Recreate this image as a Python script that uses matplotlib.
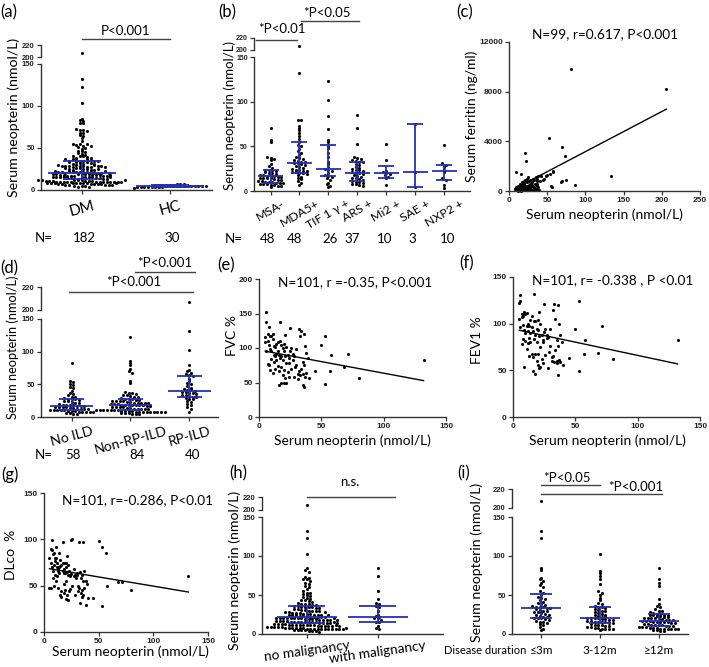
import numpy as np
import matplotlib
matplotlib.use('Agg')
import matplotlib.pyplot as plt
from matplotlib.lines import Line2D

plt.rcParams['font.family'] = ['Lato', 'DejaVu Sans']

# ---------------- DATA ----------------
# (a)
cats_a = ['DM', 'HC']
hc = [2.5, 3, 3, 3.2, 3.5, 3.6, 3.8, 4, 4, 4.2, 4.3, 4.4, 4.5, 4.5, 4.6, 4.7, 4.8, 5, 5,
      5.2, 5.3, 5.5, 5.6, 5.8, 6, 6.2, 6.5, 6.8, 7, 7.2]
# (d) ILD groups (DM = union of them)
cats_d = ['No ILD', 'Non-RP-ILD', 'RP-ILD']
no_ild = [83, 55, 53, 51, 49, 46, 44, 40, 37, 35, 33, 31, 30, 29, 28, 28, 27, 26, 25, 24,
          23, 22, 21, 20, 19, 19, 18, 18, 17, 17, 17, 16, 16, 15, 15, 14, 14, 13, 13, 12,
          12, 11, 11, 11, 10, 10, 9, 9, 9, 8, 8, 8, 7, 7, 6, 6, 5, 4]
non_rp = [123, 85, 82, 80, 73, 71, 68, 55, 52, 38, 37, 36, 35, 34, 33, 32, 31, 30, 29, 28,
          27, 27, 26, 26, 25, 25, 24, 24, 23, 23, 22, 22, 21, 21, 21, 20, 20, 20, 19, 19,
          19, 19, 18, 18, 18, 17, 17, 16, 16, 15, 15, 14, 14, 13, 13, 12, 12, 12, 11, 11,
          11, 10, 10, 10, 10, 9, 9, 9, 9, 8, 8, 8, 8, 8, 7, 7, 7, 7, 6, 6, 6, 5, 5, 4]
rp_ild = [207, 132, 103, 80, 72, 70, 68, 66, 64, 62, 58, 55, 52, 50, 47, 45, 43, 42, 41, 40,
          39, 38, 37, 36, 35, 34, 33, 32, 31, 30, 29, 28, 27, 25, 23, 20, 18, 15, 12, 8]
dm = no_ild + non_rp + rp_ild
n_a = [182, 30]
n_d = [58, 84, 40]
stats_a = [(20, 13, 34), (4.5, 3.6, 5.5)]           # (median, q1, q3)
stats_d = [(17, 11, 28), (19, 10, 27), (40, 31, 63)]

# (b) MSA groups
cats_b = ['MSA-', 'MDA5+', 'TIF 1 \u03b3 +', 'ARS +', 'Mi2 +', 'SAE +', 'NXP2 +']
msa = [70, 57, 55, 38, 37, 36, 35, 30, 28, 26, 24, 24, 23, 22, 21, 20, 20, 19, 18, 18,
       17, 17, 17, 16, 16, 15, 15, 14, 14, 13, 12, 12, 11, 11, 10, 10, 10, 9, 9, 9,
       8, 8, 8, 7, 7, 6, 6, 5]
mda5 = [207, 132, 80, 80, 73, 70, 68, 65, 62, 58, 55, 52, 50, 47, 45, 42, 40, 38, 37, 36,
        35, 34, 33, 32, 31, 31, 30, 29, 28, 27, 26, 25, 24, 23, 22, 22, 21, 21, 20, 20,
        19, 18, 16, 15, 13, 11, 9, 7]
tif1g = [123, 102, 84, 69, 57, 55, 50, 48, 42, 38, 33, 30, 27, 25, 24, 22, 20, 18, 17, 16,
         15, 12, 9, 8, 6, 5]
ars = [85, 71, 53, 38, 37, 36, 35, 34, 33, 32, 30, 29, 27, 26, 25, 24, 23, 22, 21, 20,
       20, 19, 18, 17, 16, 15, 14, 13, 12, 11, 10, 10, 9, 8, 8, 7, 6]
mi2 = [53, 35, 22, 21, 20, 19, 18, 16, 14, 7]
sae = [75, 21, 5]
nxp2 = [52, 31, 29, 27, 24, 21, 15, 12, 7, 3]
n_b = [48, 48, 26, 37, 10, 3, 10]
stats_b = [(17, 9, 24), (31.5, 20, 55), (25, 17, 51), (20, 11, 33), (20, 14, 28),
           (21, 5, 75), (22.5, 12.5, 29.5)]

# (c) ferritin vs neopterin
ferr_x = [8, 9, 10, 11, 12, 12, 13, 14, 14, 15,
          15, 16, 16, 17, 17, 18, 18, 19, 19, 20,
          20, 20, 21, 21, 22, 22, 22, 23, 23, 24,
          24, 25, 25, 26, 26, 27, 27, 28, 28, 29,
          30, 30, 31, 32, 33, 33, 34, 35, 35, 35,
          36, 36, 36, 37, 37, 38, 38, 39, 40, 42,
          44, 46, 48, 50, 52, 54, 55, 56, 57, 58,
          68, 70, 70, 73, 74, 81, 86, 133, 206, 9,
          17, 21, 22, 18, 25, 30, 34, 37, 16, 19,
          23, 27, 31, 12, 14, 20, 24, 28, 35]
ferr_y = [200, 300, 100, 150, 50, 400, 250, 600, 100, 300,
          150, 1400, 500, 200, 700, 100, 350, 50, 800, 300,
          150, 600, 900, 250, 2400, 400, 100, 700, 50, 1000,
          300, 1100, 200, 500, 800, 150, 600, 350, 900, 100,
          400, 700, 1000, 200, 900, 300, 600, 1100, 150, 50,
          400, 800, 1000, 200, 600, 300, 1200, 100, 800, 1200,
          900, 1000, 1200, 1300, 4250, 1350, 400, 300, 1500, 1600,
          750, 3550, 800, 2800, 900, 9800, 500, 1200, 8250, 1500,
          50, 3050, 100, 300, 200, 500, 100, 50, 20, 250,
          400, 250, 100, 30, 60, 500, 80, 150, 200]
fit_c = (32.3, -60.0)   # slope, intercept

# (e)(f)(g) pulmonary function vs neopterin (same patients)
pft_x = [5, 5, 6, 6, 6, 7, 7, 7, 8, 8,
         8, 9, 9, 9, 10, 10, 10, 11, 11, 12,
         12, 12, 13, 13, 13, 14, 14, 15, 15, 15,
         16, 16, 16, 17, 17, 17, 18, 18, 18, 19,
         19, 19, 20, 20, 20, 21, 21, 21, 22, 22,
         22, 23, 23, 24, 24, 25, 25, 26, 26, 27,
         28, 28, 29, 30, 30, 31, 32, 32, 33, 33,
         34, 34, 35, 35, 35, 36, 36, 36, 37, 37,
         38, 38, 39, 40, 14, 18, 20, 24, 11, 27,
         31, 45, 50, 53, 53, 57, 58, 68, 71, 80,
         132]
fvc = [116, 108, 152, 137, 95, 110, 77, 120, 130, 104,
       76, 117, 98, 68, 95, 117, 84, 120, 64, 103,
       90, 80, 101, 88, 70, 106, 82, 96, 74, 109,
       90, 66, 47, 137, 85, 110, 89, 72, 50, 100,
       83, 61, 95, 68, 49, 119, 88, 57, 49, 78,
       102, 90, 65, 85, 58, 129, 95, 100, 69, 91,
       89, 58, 72, 76, 98, 55, 66, 127, 118, 61,
       124, 70, 80, 63, 47, 120, 75, 44, 58, 103,
       93, 64, 85, 56, 92, 105, 106, 78, 113, 83,
       62, 66, 105, 118, 48, 67, 90, 72, 92, 57,
       83]
fev1 = [122, 105, 131, 124, 96, 107, 78, 110, 108, 99,
        84, 112, 54, 93, 90, 110, 81, 111, 73, 100,
        92, 79, 97, 85, 65, 104, 80, 96, 68, 108,
        92, 64, 49, 132, 84, 103, 88, 68, 46, 94,
        80, 60, 93, 68, 56, 112, 87, 52, 54, 75,
        100, 88, 62, 83, 58, 121, 91, 94, 66, 88,
        86, 53, 70, 76, 94, 60, 65, 115, 121, 59,
        105, 72, 82, 60, 58, 120, 76, 45, 61, 100,
        88, 59, 80, 56, 90, 103, 104, 80, 98, 85,
        64, 63, 94, 124, 49, 67, 82, 69, 97, 62,
        82]
dlco = [47, 80, 90, 75, 48, 88, 70, 99, 84, 66,
        58, 85, 72, 50, 77, 80, 62, 92, 55, 70,
        74, 60, 66, 68, 48, 85, 64, 71, 40, 78,
        72, 44, 38, 97, 66, 75, 68, 52, 42, 74,
        64, 45, 70, 55, 36, 82, 65, 40, 34, 62,
        72, 66, 44, 60, 46, 99, 63, 100, 50, 68,
        62, 40, 58, 64, 61, 44, 48, 97, 65, 31,
        58, 42, 62, 38, 45, 97, 55, 40, 48, 66,
        55, 29, 52, 37, 70, 64, 74, 62, 80, 60,
        50, 37, 98, 92, 28, 85, 50, 54, 54, 45,
        60]
fit_e = (-0.336, 97.1)
fit_f = (-0.284, 94.4)
fit_g = (-0.198, 69.3)

# (h) malignancy
cats_h = ['no malignancy', 'with malignancy']
no_mal = [207, 132, 123, 103, 85, 82, 80, 73, 72, 71,
          70, 68, 66, 64, 62, 60, 58, 55, 53, 52,
          51, 50, 49, 47, 46, 45, 44, 43, 42, 41,
          40, 39, 38, 38, 37, 37, 36, 36, 35, 35,
          34, 34, 33, 33, 32, 32, 31, 31, 30, 30,
          29, 29, 28, 28, 27, 27, 27, 26, 26, 26,
          25, 25, 25, 24, 24, 24, 23, 23, 23, 22,
          22, 22, 22, 21, 21, 21, 21, 20, 20, 20,
          20, 19, 19, 19, 19, 18, 18, 18, 18, 17,
          17, 17, 17, 16, 16, 16, 16, 15, 15, 15,
          15, 14, 14, 14, 14, 13, 13, 13, 13, 12,
          12, 12, 12, 11, 11, 11, 11, 10, 10, 10,
          10, 10, 9, 9, 9, 9, 9, 8, 8, 8,
          8, 8, 8, 7, 7, 7, 7, 7, 7, 6,
          6, 6, 6, 6, 5, 5, 5, 5, 4, 4,
          4, 3, 28, 25, 22, 20, 18, 16, 14, 12, 10, 8]
with_mal = [84, 75, 55, 45, 40, 38, 36, 35, 30, 25, 23, 22, 21, 20, 18, 16, 15, 10, 8, 6]
stats_h = [(22, 14.5, 36), (21.5, 16, 36.5)]

# (i) disease duration
cats_i = ['\u22643m', '3-12m', '\u226512m']
dur_le3 = [207, 132, 123, 84, 82, 72, 70, 68, 65, 63, 60, 55, 52, 50, 48, 46, 45, 43, 41, 40,
           38, 37, 36, 35, 35, 34, 33, 33, 32, 31, 30, 29, 28, 28, 27, 26, 25, 24, 23, 22,
           22, 21, 20, 20, 19, 18, 17, 16, 15, 14, 13, 11, 9, 7, 5]
dur_3_12 = [103, 81, 78, 74, 70, 64, 55, 53, 50, 46, 44, 40, 38, 36, 35, 34, 33, 32, 31, 30,
            29, 28, 27, 26, 25, 24, 23, 22, 22, 21, 21, 20, 20, 19, 19, 18, 18, 17, 17, 16,
            16, 15, 15, 14, 14, 13, 12, 12, 11, 10, 10, 9, 9, 8, 8, 7, 7, 6, 6, 5]
dur_ge12 = [85, 71, 65, 62, 45, 38, 36, 34, 32, 30, 29, 28, 27, 26, 26, 25, 25, 24, 24, 23,
            23, 22, 22, 21, 21, 20, 20, 19, 19, 18, 18, 18, 17, 17, 17, 16, 16, 15, 15, 15,
            14, 14, 13, 13, 12, 12, 11, 11, 10, 10, 10, 9, 9, 9, 8, 8, 8, 7, 7, 7,
            6, 6, 6, 5, 5, 4, 4]
stats_i = [(33, 20, 51), (21, 14.5, 35), (17, 10, 25.5)]

# ---------------- FIGURE ----------------
W, H = 709, 667
BLUE = '#2430b8'
AXC = '#333333'
fig = plt.figure(figsize=(W / 100, H / 100), dpi=100)


def add_ax(x0, y0, x1, y1):
    a = fig.add_axes([x0 / W, 1 - y1 / H, (x1 - x0) / W, (y1 - y0) / H])
    a.patch.set_alpha(0)
    return a


def ftext(x, y, s, **kw):
    kw.setdefault('ha', 'center')
    kw.setdefault('va', 'center')
    fig.text(x / W, 1 - y / H, s, **kw)


def fline(x0, x1, y, lw=1.0, color='#444444'):
    fig.add_artist(Line2D([x0 / W, x1 / W], [1 - y / H, 1 - y / H], lw=lw, color=color,
                          transform=fig.transFigure))


def style(a):
    for s in ['top', 'right']:
        a.spines[s].set_visible(False)
    for s in ['left', 'bottom']:
        a.spines[s].set_linewidth(1.0)
        a.spines[s].set_color(AXC)
    a.tick_params(length=3, width=0.9, colors=AXC, pad=1.5, labelsize=6)


def boldticks(a, axis='y', size=6):
    lbls = a.get_yticklabels() if axis == 'y' else a.get_xticklabels()
    for t in lbls:
        t.set_fontfamily('Liberation Sans')
        t.set_fontweight('bold')
        t.set_fontsize(size)
        t.set_color('#222222')


def swarm(vals, pxx, pxy, dot_h=3.0, dot_w=3.6):
    v = np.asarray(vals, float)
    bins = np.floor(v * pxy / dot_h + 0.5).astype(int)
    off = np.zeros(len(v))
    for b in np.unique(bins):
        idx = np.where(bins == b)[0]
        k = len(idx)
        off[idx] = (np.arange(k) - (k - 1) / 2) * dot_w / pxx
    return off


def dotplot(x0, x1, y150, y0, y220, y200, groups, stats, xlim, medw, capw,
            labels, rot, lab_size, lab_pad=3, tsize=6):
    axl = add_ax(x0, y150, x1, y0)
    axh = add_ax(x0, y220, x1, y200)
    style(axl)
    style(axh)
    axh.spines['bottom'].set_visible(False)
    axh.tick_params(axis='x', bottom=False, labelbottom=False)
    pxx = (x1 - x0) / (xlim[1] - xlim[0])
    pxy = (y0 - y150) / 150.0
    for i, vals in enumerate(groups):
        v = np.asarray(vals, float)
        off = swarm(v, pxx, pxy)
        lo = v <= 150
        axl.scatter(i + off[lo], v[lo], s=5, c='black', lw=0, zorder=2, clip_on=False)
        if (~lo).any():
            axh.scatter(i + off[~lo], v[~lo], s=5, c='black', lw=0, zorder=2, clip_on=False)
        med, q1, q3 = stats[i]
        mw = medw / pxx / 2
        cw = capw / pxx / 2
        axl.hlines(med, i - mw, i + mw, color=BLUE, lw=1.3, zorder=3)
        axl.hlines([q1, q3], i - cw, i + cw, color=BLUE, lw=1.3, zorder=3)
        axl.vlines(i, q1, q3, color=BLUE, lw=1.3, zorder=3)
    for a in (axl, axh):
        a.set_xlim(*xlim)
    axl.set_ylim(0, 150)
    axh.set_ylim(200, 220)
    axl.set_yticks([0, 50, 100, 150])
    axh.set_yticks([200, 220])
    boldticks(axl, size=tsize)
    boldticks(axh, size=tsize)
    axl.set_xticks(range(len(groups)))
    axl.set_xticklabels(labels, rotation=rot, fontsize=lab_size, ha='center')
    axl.tick_params(axis='x', pad=lab_pad)
    for t in axl.get_xticklabels():
        t.set_color('black')
    return axl, axh


def scatterplot(x0, x1, ytop, y0, xs, ys, fit, xlim, ylim, xticks, yticks):
    a = add_ax(x0, ytop, x1, y0)
    style(a)
    a.scatter(xs, ys, s=5, c='black', lw=0, zorder=2, clip_on=False)
    lx = np.array([min(xs), max(xs)], float)
    a.plot(lx, fit[0] * lx + fit[1], color='black', lw=1.0, zorder=3)
    a.set_xlim(*xlim)
    a.set_ylim(*ylim)
    a.set_xticks(xticks)
    a.set_yticks(yticks)
    a.tick_params(axis='x', pad=1)
    boldticks(a, 'x')
    boldticks(a, 'y')
    return a


# (a)
dotplot(41, 212, 64, 190, 45, 57, [dm, hc], stats_a, (-0.46, 1.48), 68, 38,
        cats_a, 15, 11, tsize=5.5)
ftext(14, 117, 'Serum neopterin (nmol/L)', rotation=90, fontsize=10.2)
ftext(126, 31, 'P<0.001', fontsize=9.5)
fline(82, 170, 39)
ftext(44, 238, 'N=', fontsize=9.5)
for xp, n in zip([84, 172], n_a):
    ftext(xp, 238, str(n), fontsize=9.5)

# (b)
dotplot(254, 470, 57, 191, 38, 50, [msa, mda5, tif1g, ars, mi2, sae, nxp2], stats_b,
        (-0.57, 6.89), 25, 16, cats_b, 30, 8.8, lab_pad=2, tsize=5)
ftext(230, 115, 'Serum neopterin (nmol/L)', rotation=90, fontsize=9.5)
ftext(282, 29, '*P<0.01', fontsize=9.5)
fline(256, 297, 40)
ftext(327, 13, '*P<0.05', fontsize=9.5)
fline(301, 359, 21)
ftext(234, 239, 'N=', fontsize=9.5)
for xp, n in zip([268, 295, 330, 352, 385, 412, 448], n_b):
    ftext(xp, 239, str(n), fontsize=9.5)

# (c)
axc = scatterplot(509, 700, 42, 191, ferr_x, ferr_y, fit_c, (0, 250), (0, 12000),
                  [0, 50, 100, 150, 200, 250], [0, 4000, 8000, 12000])
ftext(472, 116, 'Serum ferritin (ng/ml)', rotation=90, fontsize=10)
ftext(604, 215, 'Serum neopterin (nmol/L)', fontsize=10)
ftext(605, 34, 'N=99, r=0.617, P<0.001', fontsize=9.8)

# (d)
dotplot(41, 218, 319, 417, 287, 310, [no_ild, non_rp, rp_ild], stats_d,
        (-0.52, 2.49), 43, 25, cats_d, 15, 10, tsize=5.5)
ftext(13, 347, 'Serum neopterin (nmol/L)', rotation=90, fontsize=9.2)
ftext(165, 263, '*P<0.001', fontsize=9.5)
fline(135, 195, 272)
ftext(134, 282, '*P<0.001', fontsize=9.5)
fline(69, 193, 292)
ftext(44, 455, 'N=', fontsize=9.5)
for xp, n in zip([73, 137, 193], n_d):
    ftext(xp, 455, str(n), fontsize=9.5)

# (e)
scatterplot(259, 446, 279, 417, pft_x, fvc, fit_e, (0, 150), (0, 200),
            [0, 50, 100, 150], [0, 50, 100, 150, 200])
ftext(232, 335, 'FVC %', rotation=90, fontsize=10)
ftext(352, 441, 'Serum neopterin (nmol/L)', fontsize=10)
ftext(355, 282, 'N=101, r =-0.35, P<0.001', fontsize=9.8)

# (f)
scatterplot(513, 700, 277, 417, pft_x, fev1, fit_f, (0, 150), (0, 150),
            [0, 50, 100, 150], [0, 50, 100, 150])
ftext(477, 340, 'FEV1 %', rotation=90, fontsize=10)
ftext(607, 441, 'Serum neopterin (nmol/L)', fontsize=10)
ftext(613, 280, 'N=101, r= -0.338 , P <0.01', fontsize=9.8)

# (g)
scatterplot(44, 208, 493, 632, pft_x, dlco, fit_g, (0, 150), (0, 150),
            [0, 50, 100, 150], [0, 50, 100, 150])
ftext(11, 555, 'DLco  %', rotation=90, fontsize=10)
ftext(130, 652, 'Serum neopterin (nmol/L)', fontsize=10)
ftext(137, 500, 'N=101, r=-0.286, P<0.01', fontsize=9.8)

# (h)
dotplot(262, 443, 517, 634, 497, 510, [no_mal, with_mal], stats_h, (-0.63, 1.92),
        60, 37, cats_h, 8, 9.8, lab_pad=1, tsize=5.5)
ftext(235, 570, 'Serum neopterin (nmol/L)', rotation=90, fontsize=10.2)
ftext(350, 482, 'n.s.', fontsize=9.5)
fline(307, 395, 497)

# (i)
dotplot(512, 688, 517, 634, 489, 508, [dur_le3, dur_3_12, dur_ge12], stats_i,
        (-0.5, 2.5), 40, 22, cats_i, 0, 8.5, lab_pad=5, tsize=5.5)
ftext(477, 562, 'Serum neopterin (nmol/L)', rotation=90, fontsize=10.2)
ftext(526, 651, 'Disease duration', fontsize=8, ha='right')
ftext(567, 478, '*P<0.05', fontsize=9.5)
fline(541, 600, 485)
ftext(636, 487, '*P<0.001', fontsize=9.5)
fline(541, 662, 494)

# panel labels
for lbl, xp, yp in [('(a)', 9, 12), ('(b)', 227, 12), ('(c)', 465, 12),
                    ('(d)', 9, 268), ('(e)', 226, 265), ('(f)', 467, 263),
                    ('(g)', 10, 475), ('(h)', 238, 473), ('(i)', 464, 473)]:
    ftext(xp, yp, lbl, fontsize=12)

fig.savefig('out.png', dpi=100)
